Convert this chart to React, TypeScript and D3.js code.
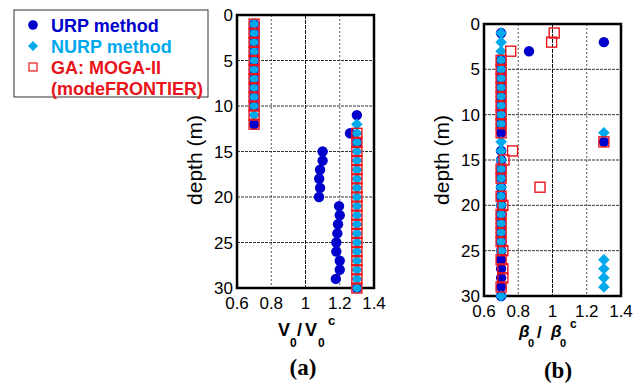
import React from "react";
import * as d3 from "d3";

// ---- Data ----
const depths = d3.range(1, 31);

// Panel (a): V0 / V0c
const urpA = [0.7, 0.7, 0.7, 0.7, 0.7, 0.7, 0.7, 0.7, 0.7, 0.7, 1.3, 0.7, 1.26, 1.3, 1.1, 1.1, 1.085, 1.08, 1.085, 1.079, 1.196, 1.2, 1.19, 1.186, 1.18, 1.18, 1.2, 1.2, 1.177, 1.3];
const nurpA = [0.7, 0.7, 0.7, 0.7, 0.7, 0.7, 0.7, 0.7, 0.7, 0.7, 0.7, 1.3, 1.3, 1.3, 1.3, 1.3, 1.3, 1.3, 1.3, 1.3, 1.3, 1.3, 1.3, 1.3, 1.3, 1.3, 1.3, 1.3, 1.3, 1.3];
const gaA = [0.7, 0.7, 0.7, 0.7, 0.7, 0.7, 0.7, 0.7, 0.7, 0.7, 0.7, 0.7, 1.3, 1.3, 1.3, 1.3, 1.3, 1.3, 1.3, 1.3, 1.3, 1.3, 1.3, 1.3, 1.3, 1.3, 1.3, 1.3, 1.3, 1.3];

// Panel (b): beta0 / beta0c
const urpB = [0.7, 1.3, 0.863, 0.7, 0.7, 0.7, 0.7, 0.7, 0.7, 0.7, 0.7, 0.7, 1.3, 0.7, 0.7, 0.7, 0.7, 0.7, 0.7, 0.7, 0.7, 0.7, 0.7, 0.7, 0.7, 0.7, 0.7, 0.7, 0.7, 0.7];
const nurpB = [0.7, 0.7, 0.7, 0.7, 0.7, 0.7, 0.7, 0.7, 0.7, 0.7, 0.7, 1.3, 0.7, 0.7, 0.7, 0.7, 0.7, 0.7, 0.7, 0.7, 0.7, 0.7, 0.7, 0.7, 0.7, 1.3, 1.3, 1.3, 1.3, 0.7];
const gaB = [1.01, 0.995, 0.756, 0.7, 0.7, 0.7, 0.7, 0.7, 0.7, 0.7, 0.7, 0.7, 1.3, 0.767, 0.717, 0.7, 0.7, 0.927, 0.7, 0.71, 0.7, 0.7, 0.7, 0.7, 0.71, 0.7, 0.71, 0.71, 0.7, null];

const xTicks = [0.6, 0.8, 1, 1.2, 1.4];
const yTicks = [0, 5, 10, 15, 20, 25, 30];
const xGrid = [0.8, 1, 1.2];
const yGrid = [5, 10, 15, 20, 25];

const legendItems = [
  { label: "URP method", kind: "circle" },
  { label: "NURP method", kind: "diamond" },
  { label: "GA: MOGA-II", kind: "square" },
  { label: "(modeFRONTIER)", kind: "none" },
];

const C_URP = "#0000cc";
const C_NURP = "#00a9ec";
const C_GA = "#e8141b";
const SANS = "'Liberation Sans', Arial, sans-serif";

type PanelProps = {
  left: number; right: number; top: number; bottom: number;
  urp: (number | null)[]; nurp: (number | null)[]; ga: (number | null)[];
};

function Panel({ left, right, top, bottom, urp, nurp, ga }: PanelProps) {
  const x = d3.scaleLinear().domain([0.6, 1.4]).range([left, right]);
  const y = d3.scaleLinear().domain([0, 30]).range([top, bottom]);
  const r = 5.2;
  const d = 5.8;
  const s = 10;
  return (
    <g>
      {xGrid.map((v) => (
        <line key={"gx" + v} x1={x(v)} x2={x(v)} y1={top} y2={bottom}
          stroke={v === 1 ? "#111" : "#555"} strokeWidth={1}
          strokeDasharray={v === 1 ? "4,1" : "2,2"} />
      ))}
      {yGrid.map((v) => (
        <line key={"gy" + v} x1={left} x2={right} y1={y(v)} y2={y(v)}
          stroke="#333" strokeWidth={1} strokeDasharray="3,1" />
      ))}
      <rect x={left} y={top} width={right - left} height={bottom - top}
        fill="none" stroke="#000" strokeWidth={2.5} />
      {xTicks.map((v) => (
        <text key={"tx" + v} x={x(v)} y={bottom + 21} textAnchor="middle"
          fontFamily={SANS} fontSize={17} fill="#000">{String(v)}</text>
      ))}
      {yTicks.map((v) => (
        <text key={"ty" + v} x={left - 4} y={y(v)} dy="0.36em" textAnchor="end"
          fontFamily={SANS} fontSize={17} fill="#000">{String(v)}</text>
      ))}
      {depths.map((dep, i) => urp[i] == null ? null : (
        <circle key={"u" + i} cx={x(urp[i] as number)} cy={y(dep)} r={r} fill={C_URP} />
      ))}
      {depths.map((dep, i) => {
        if (nurp[i] == null) return null;
        const cx = x(nurp[i] as number), cy = y(dep);
        return <path key={"n" + i} d={`M${cx},${cy - d}L${cx + d},${cy}L${cx},${cy + d}L${cx - d},${cy}Z`} fill={C_NURP} />;
      })}
      {depths.map((dep, i) => ga[i] == null ? null : (
        <rect key={"g" + i} x={x(ga[i] as number) - s / 2} y={y(dep) - s / 2} width={s} height={s}
          fill="none" stroke={C_GA} strokeWidth={1.4} />
      ))}
    </g>
  );
}

export default function App() {
  return (
    <svg width={644} height={384} style={{ position: "absolute", left: 0, top: 0, background: "#fff" }}>
      <rect x={0} y={0} width={644} height={384} fill="#fff" />
      <Panel left={237} right={374} top={15} bottom={288} urp={urpA} nurp={nurpA} ga={gaA} />
      <Panel left={484} right={621} top={24} bottom={296} urp={urpB} nurp={nurpB} ga={gaB} />

      {/* y-axis titles */}
      <text transform="translate(202,160) rotate(-90)" textAnchor="middle" fontFamily={SANS} fontSize={21} fill="#000">depth (m)</text>
      <text transform="translate(449,160) rotate(-90)" textAnchor="middle" fontFamily={SANS} fontSize={21} fill="#000">depth (m)</text>

      {/* x-axis title (a) */}
      <g fontFamily={SANS} fontWeight="bold" fill="#000">
        <text x={278} y={336} fontSize={18}>V</text>
        <text x={290} y={347} fontSize={12}>0</text>
        <text x={297} y={336} fontSize={18}>/</text>
        <text x={305} y={336} fontSize={18}>V</text>
        <text x={318} y={347} fontSize={12}>0</text>
        <text x={328} y={325} fontSize={13}>c</text>
      </g>
      {/* x-axis title (b) */}
      <g fontFamily={SANS} fontWeight="bold" fill="#000">
        <text x={519} y={337} fontSize={17} fontStyle="italic">β</text>
        <text x={528} y={347} fontSize={11}>0</text>
        <text x={537} y={338} fontSize={17}>/</text>
        <text x={551} y={337} fontSize={17} fontStyle="italic">β</text>
        <text x={560} y={347} fontSize={11}>0</text>
        <text x={570} y={328} fontSize={12}>c</text>
      </g>

      {/* panel labels */}
      <text x={303} y={375} textAnchor="middle" fontFamily="'Liberation Serif', 'Times New Roman', serif" fontWeight="bold" fontSize={23} fill="#000">(a)</text>
      <text x={558} y={378} textAnchor="middle" fontFamily="'Liberation Serif', 'Times New Roman', serif" fontWeight="bold" fontSize={23} fill="#000">(b)</text>

      {/* legend */}
      <rect x={14} y={10} width={194} height={87} fill="#fff" stroke="#333" strokeWidth={1} />
      {legendItems.map((it, i) => {
        const cy = 25 + i * 21;
        const color = i === 0 ? C_URP : i === 1 ? C_NURP : C_GA;
        return (
          <g key={it.label}>
            {it.kind === "circle" && <circle cx={33} cy={cy} r={4.8} fill={C_URP} />}
            {it.kind === "diamond" && <path d={`M33,${cy - 5}L38,${cy}L33,${cy + 5}L28,${cy}Z`} fill={C_NURP} />}
            {it.kind === "square" && <rect x={29} y={cy - 4} width={8} height={8} fill="none" stroke={C_GA} strokeWidth={1.2} />}
            <text x={51} y={cy + 6.5} fontFamily={SANS} fontWeight="bold" fontSize={18} fill={color}>{it.label}</text>
          </g>
        );
      })}
    </svg>
  );
}
